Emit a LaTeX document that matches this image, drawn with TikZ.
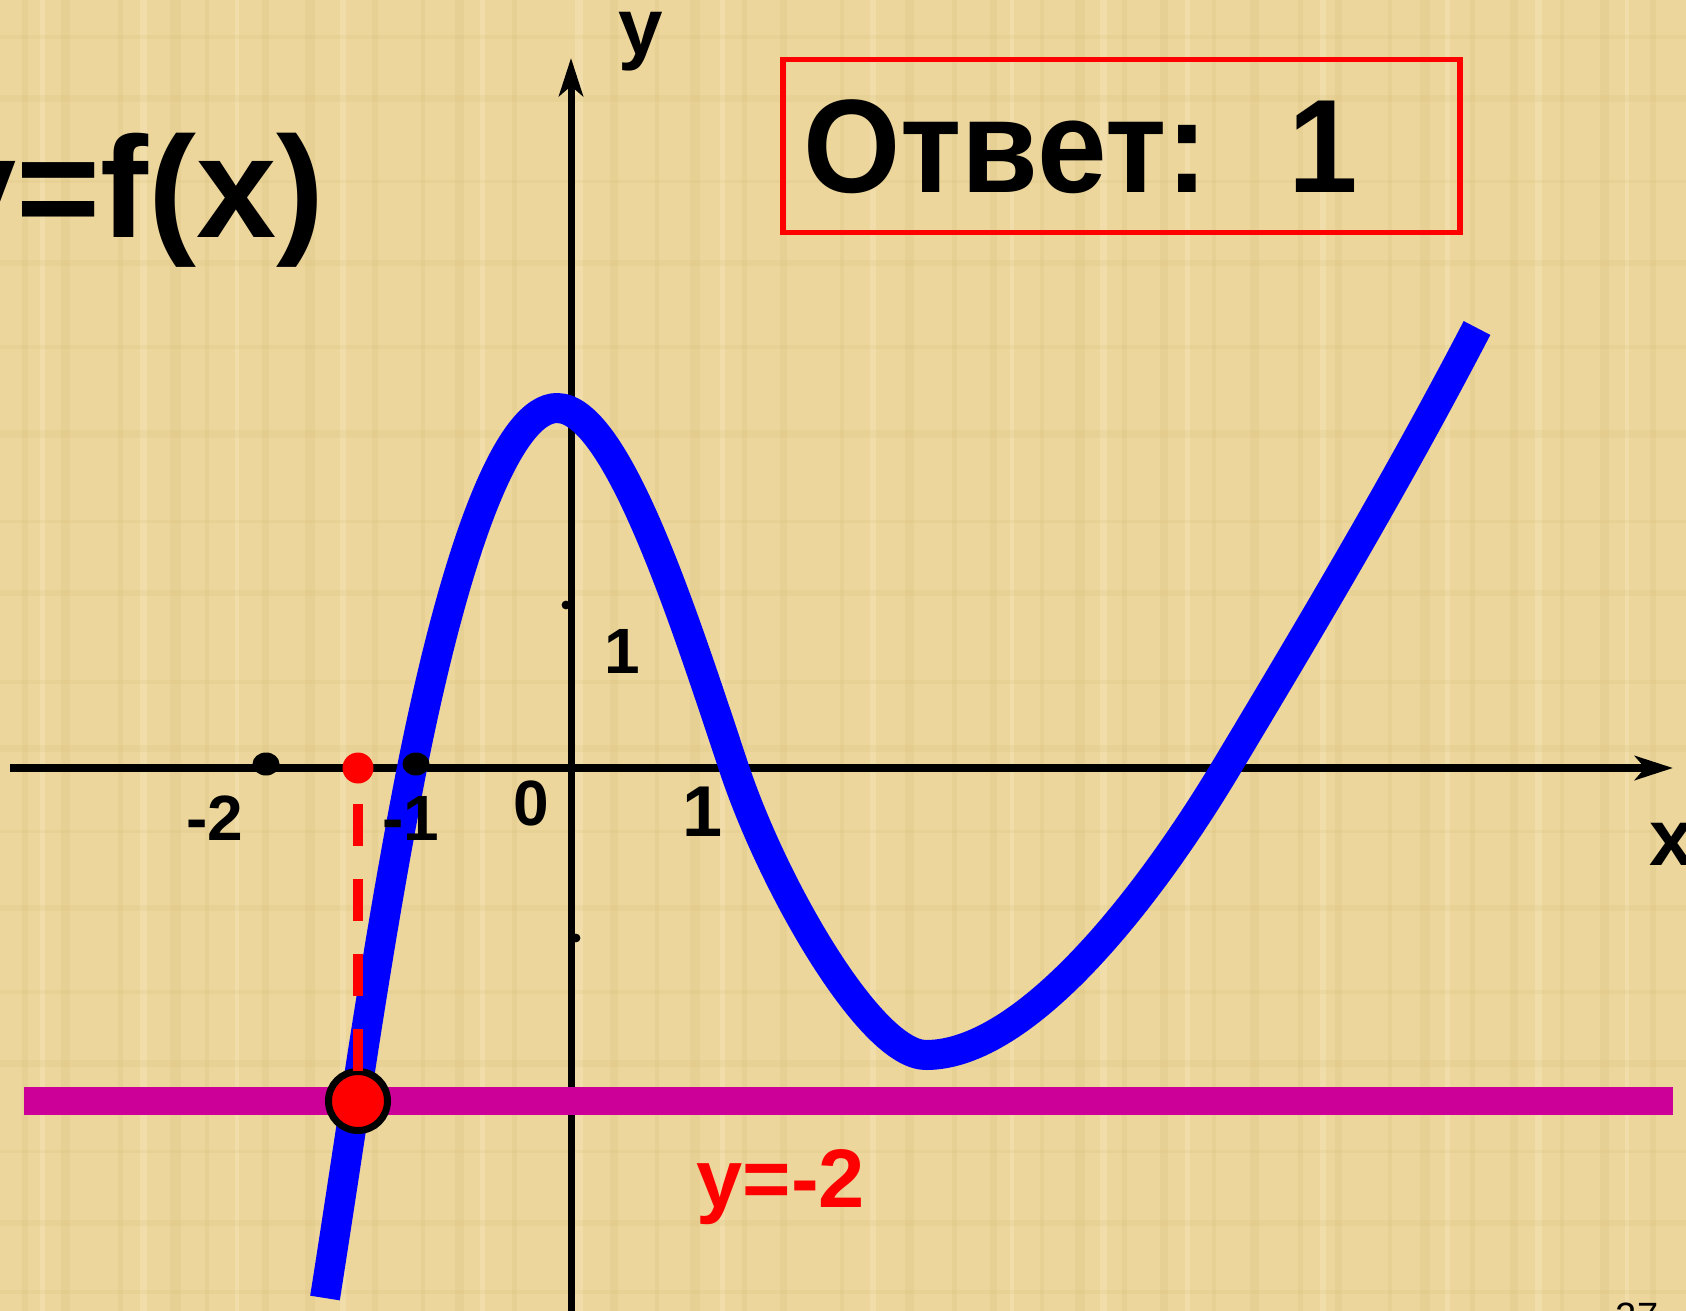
\documentclass[tikz,border=0pt]{standalone}
\usepackage{fontspec}
\setmainfont{Liberation Sans}
\usetikzlibrary{arrows.meta,shapes.geometric}
\definecolor{paper}{RGB}{236,214,156}
\definecolor{paperdark}{RGB}{214,188,118}
\definecolor{paperlight}{RGB}{246,230,186}
\definecolor{magline}{RGB}{204,0,153}
\definecolor{curveblue}{RGB}{0,0,255}
\begin{document}
\begin{tikzpicture}[x=0.5pt,y=-0.5pt,
  axisline/.style={black,-{Stealth[length=19pt,width=12pt,inset=5pt]}},
  blackdot/.style={ellipse,fill=black,inner sep=0pt,minimum width=13.5pt,minimum height=11.5pt},
  reddot/.style={circle,fill=red,inner sep=0pt,minimum size=15.5pt},
  bigdot/.style={circle,fill=red,draw=black,line width=3.5pt,inner sep=0pt,minimum size=29.5pt},
  dashline/.style={red,line width=5.3pt,dash pattern=on 21pt off 16.5pt},
  ticklab/.style={anchor=base,inner sep=0pt,font=\fontsize{32}{32}\selectfont\bfseries},
  axlab/.style={inner sep=0pt,font=\fontsize{40}{40}\selectfont\bfseries},
  answerbox/.style={draw=red,line width=2.6pt,inner sep=0pt,minimum width=338.5pt,minimum height=86.5pt}
]
\useasboundingbox (0,0) rectangle (1686,1311);
\clip (0,0) rectangle (1686,1311);
\fill[paper] (0,0) rectangle (1686,1311);
% faint papyrus texture
\foreach \xx/\ww in {22/6,61/9,118/5,170/11,205/4,262/7,305/10,372/6,421/4,455/9,512/5,610/8,655/4,690/10,742/5,780/7,840/4,905/9,952/5,990/7,1040/4,1075/10,1122/5,1160/8,1212/4,1250/9,1298/5,1335/7,1388/4,1420/10,1470/5,1510/8,1560/4,1600/9,1650/6}
  \fill[paperdark,opacity=0.22] (\xx,0) rectangle (\xx+\ww,1311);
\foreach \xx/\ww in {40/5,140/7,235/4,340/6,480/5,575/8,720/5,870/6,1010/4,1100/7,1185/5,1320/6,1445/5,1535/7,1625/4}
  \fill[paperlight,opacity=0.45] (\xx,0) rectangle (\xx+\ww,1311);
\foreach \yy/\hh in {35/4,95/7,180/3,260/6,345/4,430/8,520/3,590/6,680/4,745/7,830/3,905/6,990/4,1060/7,1150/3,1220/6,1290/4}
  \fill[paperdark,opacity=0.16] (0,\yy) rectangle (1686,\yy+\hh);

% axes
\coordinate (xs) at (10,768);
\coordinate (xe) at (1673,768);
\coordinate (ys) at (571,1320);
\coordinate (ye) at (571,58);
\draw[axisline,line width=4pt] (xs) -- (xe);
\draw[axisline,line width=3.5pt] (ys) -- (ye);
\fill (566,605) circle (2.2pt);
\fill (576,938) circle (2.2pt);

% graph of f
\draw[curveblue,line width=15pt,line join=round,line cap=butt]
  (325,1298) .. controls (353,1121) and (377,945) .. (412,768)
  .. controls (458,538) and (510,408) .. (557,408)
  .. controls (617,408) and (684,618) .. (734,768)
  .. controls (774,888) and (871,1055) .. (926,1055)
  .. controls (1026,1055) and (1148,898) .. (1226,768)
  .. controls (1316,618) and (1399,478) .. (1477,328);

% line y=-2
\coordinate (ml) at (24,1101);
\coordinate (mr) at (1673,1101);
\draw[magline,line width=14pt] (ml) -- (mr);

% points
\node[blackdot] (dm2) at (266,764) {};
\node[blackdot] (dm1) at (416,764) {};
\node[reddot] (rd) at (358,768) {};
\node[bigdot] (hit) at (358,1101) {};
\draw[dashline,shorten <=18pt,shorten >=14.5pt] (rd.center) -- (hit.center);

% labels
\node[ticklab] (lm2) at (215,840) {-2};
\node[ticklab] (lm1) at (411,840) {-1};
\node[ticklab] (l0) at (531,825) {0};
\node[ticklab,font=\fontsize{36}{36}\selectfont\bfseries] (l1x) at (703,836) {1};
\node[ticklab] (l1y) at (622,673) {1};
\node[axlab,anchor=base] (ly) at (641,55) {y};
\node[axlab,anchor=base west] (lx) at (1649,865) {x};

\node[anchor=base east,inner sep=0pt,font=\fontsize{72}{72}\selectfont\bfseries] (title) at (325,237) {y=f(x)};
\node[anchor=base west,inner sep=0pt,red,font=\fontsize{41.5}{41.5}\selectfont\bfseries] (lineq) at (696,1207) {y=-2};

\node[answerbox] (box) at (1121.5,146) {};
\node[anchor=base west,inner sep=0pt,font=\fontsize{66.5}{66.5}\selectfont\bfseries] (ans) at (803,192) {\scalebox{0.94}[1]{Ответ:\hspace{43pt}1}};

\node[anchor=base,inner sep=0pt,font=\fontsize{19}{19}\selectfont] (pg) at (1637,1329) {27};
\end{tikzpicture}
\end{document}
